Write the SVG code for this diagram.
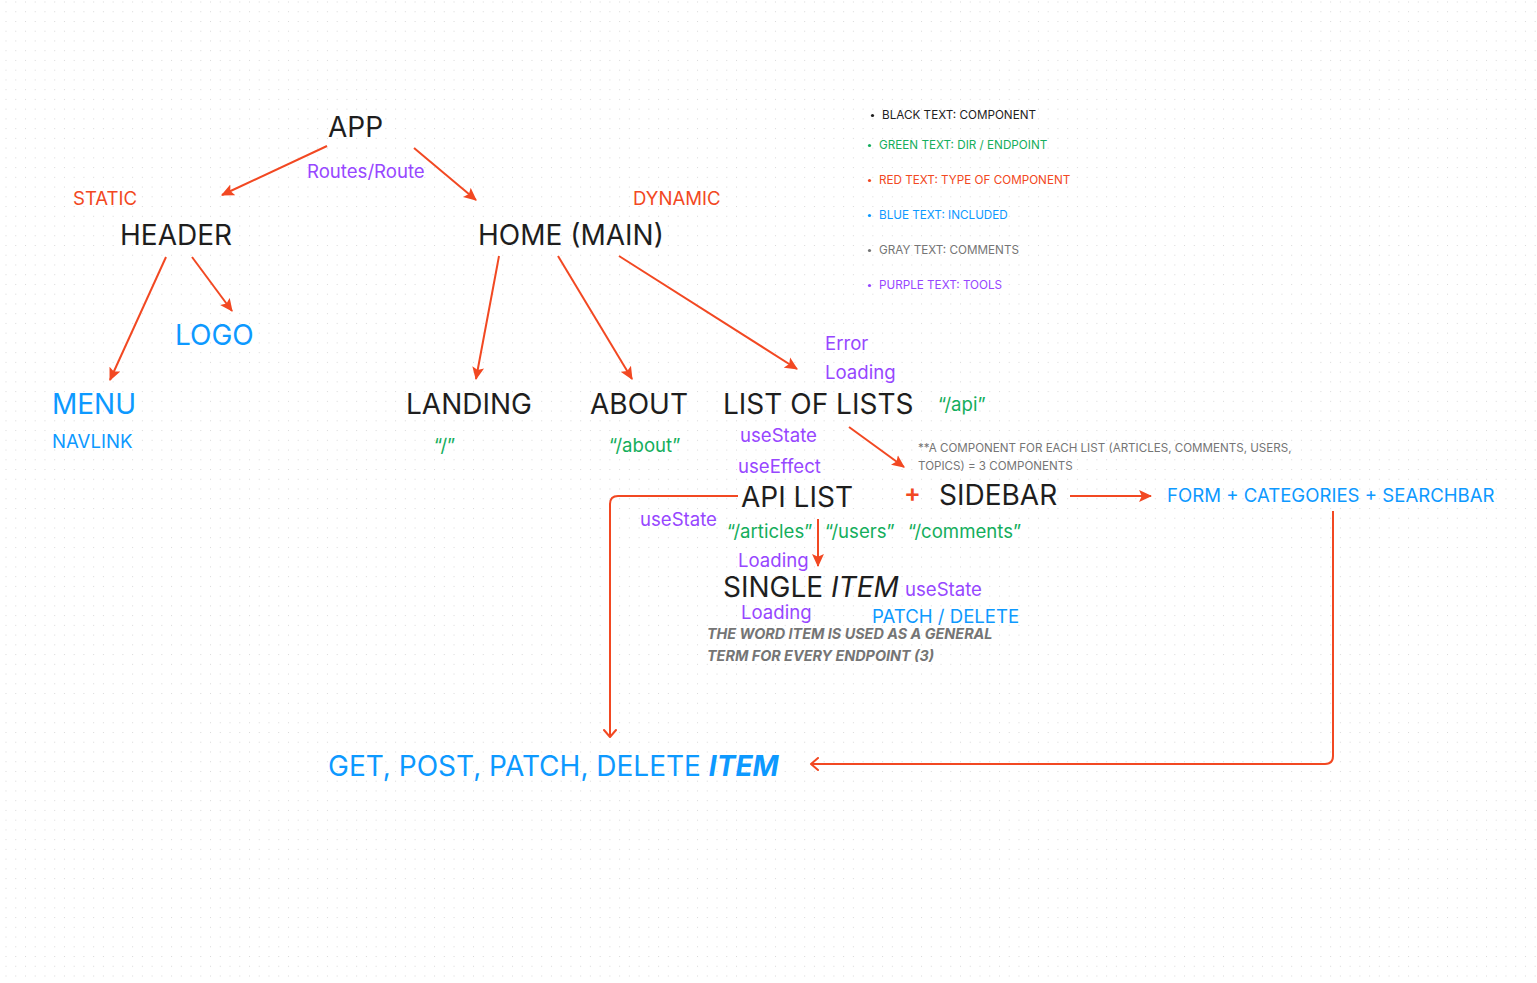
<svg xmlns="http://www.w3.org/2000/svg" width="1537" height="983" viewBox="0 0 1537 983">
<defs>
<pattern id="dots" x="5.5" y="1.5" width="9.74" height="9.74" patternUnits="userSpaceOnUse">
<rect x="0" y="0" width="1" height="1" fill="#d9d9d9"/>
</pattern>
<marker id="tri" viewBox="0 0 12 12" refX="11" refY="6" markerWidth="13" markerHeight="13" markerUnits="userSpaceOnUse" orient="auto">
<path d="M0,0.5 L12,6 L0,11.5 L2.5,6 Z" fill="#F24822"/>
</marker>
<marker id="open" viewBox="0 0 14 14" refX="12" refY="7" markerWidth="14" markerHeight="14" markerUnits="userSpaceOnUse" orient="auto">
<path d="M5,1 L12,7 L5,13" fill="none" stroke="#F24822" stroke-width="2" stroke-linecap="round" stroke-linejoin="round"/>
</marker>
</defs>
<style>
text{font-family:Inter,"Noto Sans","Liberation Sans",sans-serif;}
.big{font-size:28px;fill:#1e1e1e;}
.med{font-size:18.6px;}
.blk{fill:#1e1e1e;}
.grn{fill:#14AE5C;}
.red{fill:#F24822;}
.blu{fill:#0D99FF;}
.gry{fill:#757575;}
.pur{fill:#9747FF;}
.leg{font-size:11.7px;}
.note{font-size:11.6px;fill:#757575;}
.it{font-style:italic;}
.conn{fill:none;stroke:#F24822;stroke-width:2;}
</style>
<rect width="1537" height="983" fill="#ffffff"/>
<rect width="1537" height="983" fill="url(#dots)"/>

<g id="connectors">
<line class="conn" x1="327" y1="146" x2="222" y2="195" marker-end="url(#tri)"/>
<line class="conn" x1="414" y1="148" x2="476" y2="200" marker-end="url(#tri)"/>
<line class="conn" x1="166" y1="257" x2="110" y2="380" marker-end="url(#tri)"/>
<line class="conn" x1="192" y1="257" x2="232" y2="311" marker-end="url(#tri)"/>
<line class="conn" x1="499" y1="256" x2="476" y2="379" marker-end="url(#tri)"/>
<line class="conn" x1="558" y1="256" x2="632" y2="379" marker-end="url(#tri)"/>
<line class="conn" x1="619" y1="256" x2="797" y2="369" marker-end="url(#tri)"/>
<line class="conn" x1="849" y1="427" x2="904" y2="467" marker-end="url(#tri)"/>
<line class="conn" x1="818" y1="519" x2="818" y2="566" marker-end="url(#tri)"/>
<line class="conn" x1="1070" y1="496" x2="1151" y2="496" marker-end="url(#tri)"/>
<path class="conn" d="M738,496 L618,496 Q610,496 610,504 L610,737" marker-end="url(#open)"/>
<path class="conn" d="M1333,511 L1333,756 Q1333,764 1325,764 L811,764" marker-end="url(#open)"/>
</g>

<g id="legend">
<circle cx="872.5" cy="115.5" r="1.6" fill="#1e1e1e"/>
<text class="leg blk" x="882" y="119">BLACK TEXT: COMPONENT</text>
<circle cx="869.5" cy="145.5" r="1.6" fill="#14AE5C"/>
<text class="leg grn" x="879" y="149">GREEN TEXT: DIR / ENDPOINT</text>
<circle cx="869.5" cy="180.5" r="1.6" fill="#F24822"/>
<text class="leg red" x="879" y="184">RED TEXT: TYPE OF COMPONENT</text>
<circle cx="869.5" cy="215.5" r="1.6" fill="#0D99FF"/>
<text class="leg blu" x="879" y="219">BLUE TEXT: INCLUDED</text>
<circle cx="869.5" cy="250.5" r="1.6" fill="#757575"/>
<text class="leg gry" x="879" y="254">GRAY TEXT: COMMENTS</text>
<circle cx="869.5" cy="285.5" r="1.6" fill="#9747FF"/>
<text class="leg pur" x="879" y="289">PURPLE TEXT: TOOLS</text>
</g>

<g id="app">
<text class="big" x="328" y="137">APP</text>
<text class="med pur" x="307" y="178">Routes/Route</text>
</g>
<g id="header">
<text class="med red" x="73" y="205">STATIC</text>
<text class="big" x="120" y="245">HEADER</text>
</g>
<g id="home">
<text class="med red" x="633" y="205">DYNAMIC</text>
<text class="big" x="478" y="245">HOME (MAIN)</text>
</g>
<g id="logo">
<text class="big" x="175" y="345" style="fill:#0D99FF">LOGO</text>
</g>
<g id="menu">
<text class="big" x="52" y="414" style="fill:#0D99FF">MENU</text>
<text class="med blu" x="52" y="448">NAVLINK</text>
</g>
<g id="landing">
<text class="big" x="406" y="414">LANDING</text>
<text class="med grn" x="434" y="452">“/”</text>
</g>
<g id="about">
<text class="big" x="590" y="414">ABOUT</text>
<text class="med grn" x="609" y="452">“/about”</text>
</g>
<g id="list-of-lists">
<text class="med pur" x="825" y="350">Error</text>
<text class="med pur" x="825" y="379">Loading</text>
<text class="big" x="723" y="414">LIST OF LISTS</text>
<text class="med grn" x="938" y="411">“/api”</text>
<text class="med pur" x="740" y="442">useState</text>
<text class="med pur" x="738" y="473">useEffect</text>
</g>
<g id="note">
<text class="note" x="918" y="452">**A COMPONENT FOR EACH LIST (ARTICLES, COMMENTS, USERS,</text>
<text class="note" x="918" y="470">TOPICS) = 3 COMPONENTS</text>
</g>
<g id="api-list">
<text class="big" x="741" y="507">API LIST</text>
<text class="med pur" x="640" y="526">useState</text>
<text class="med grn" x="727" y="538">“/articles”</text>
<text class="med grn" x="825" y="538">“/users”</text>
<text class="med grn" x="908" y="538">“/comments”</text>
</g>
<g id="sidebar">
<text class="red" x="904" y="502" style="font-size:25px;font-weight:600">+</text>
<text class="big" x="939" y="505">SIDEBAR</text>
</g>
<g id="form">
<text class="med blu" x="1167" y="502">FORM + CATEGORIES + SEARCHBAR</text>
</g>
<g id="single-item">
<text class="med pur" x="738" y="567">Loading</text>
<text class="big" x="723" y="597">SINGLE <tspan class="it">ITEM</tspan></text>
<text class="med pur" x="905" y="596">useState</text>
<text class="med pur" x="741" y="619">Loading</text>
<text class="med blu" x="872" y="623">PATCH / DELETE</text>
<text class="gry it" x="707" y="639" style="font-size:14.4px;font-weight:700">THE WORD ITEM IS USED AS A GENERAL</text>
<text class="gry it" x="707" y="661" style="font-size:14.4px;font-weight:700">TERM FOR EVERY ENDPOINT (3)</text>
</g>
<g id="crud">
<text class="big" x="328" y="776" style="fill:#0D99FF">GET, POST, PATCH, DELETE <tspan class="it" font-weight="700">ITEM</tspan></text>
</g>
</svg>
